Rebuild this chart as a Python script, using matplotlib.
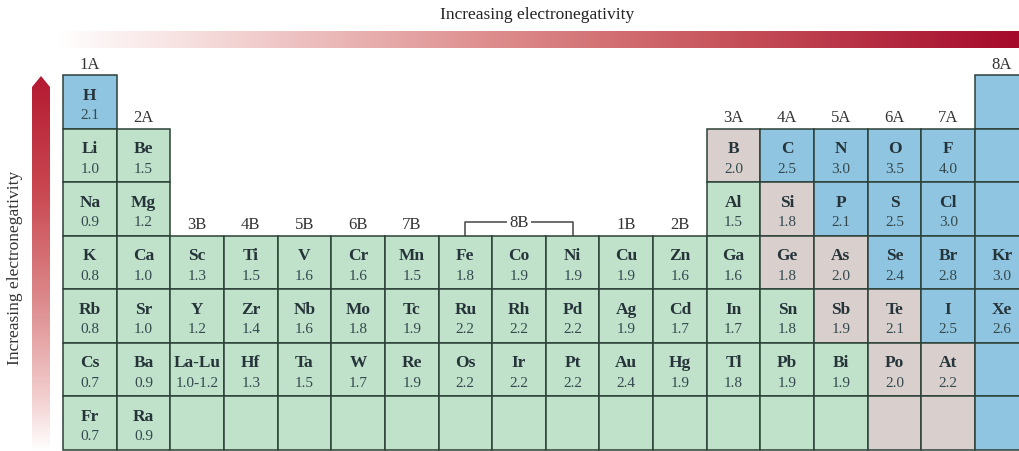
import numpy as np
import matplotlib.pyplot as plt
from matplotlib.colors import LinearSegmentedColormap
from matplotlib.patches import Rectangle, Polygon

plt.rcParams["font.family"] = ["Liberation Serif", "DejaVu Serif"]

# element symbols per period (row), "" = empty cell
symbols = [
    ["H", "", "", "", "", "", "", "", "", "", "", "", "", "", "", "", "", ""],
    ["Li", "Be", "", "", "", "", "", "", "", "", "", "", "B", "C", "N", "O", "F", ""],
    ["Na", "Mg", "", "", "", "", "", "", "", "", "", "", "Al", "Si", "P", "S", "Cl", ""],
    ["K", "Ca", "Sc", "Ti", "V", "Cr", "Mn", "Fe", "Co", "Ni", "Cu", "Zn", "Ga", "Ge", "As", "Se", "Br", "Kr"],
    ["Rb", "Sr", "Y", "Zr", "Nb", "Mo", "Tc", "Ru", "Rh", "Pd", "Ag", "Cd", "In", "Sn", "Sb", "Te", "I", "Xe"],
    ["Cs", "Ba", "La-Lu", "Hf", "Ta", "W", "Re", "Os", "Ir", "Pt", "Au", "Hg", "Tl", "Pb", "Bi", "Po", "At", ""],
    ["Fr", "Ra", "", "", "", "", "", "", "", "", "", "", "", "", "", "", "", ""],
]

# electronegativity values per period
values = [
    ["2.1", "", "", "", "", "", "", "", "", "", "", "", "", "", "", "", "", ""],
    ["1.0", "1.5", "", "", "", "", "", "", "", "", "", "", "2.0", "2.5", "3.0", "3.5", "4.0", ""],
    ["0.9", "1.2", "", "", "", "", "", "", "", "", "", "", "1.5", "1.8", "2.1", "2.5", "3.0", ""],
    ["0.8", "1.0", "1.3", "1.5", "1.6", "1.6", "1.5", "1.8", "1.9", "1.9", "1.9", "1.6", "1.6", "1.8", "2.0", "2.4", "2.8", "3.0"],
    ["0.8", "1.0", "1.2", "1.4", "1.6", "1.8", "1.9", "2.2", "2.2", "2.2", "1.9", "1.7", "1.7", "1.8", "1.9", "2.1", "2.5", "2.6"],
    ["0.7", "0.9", "1.0-1.2", "1.3", "1.5", "1.7", "1.9", "2.2", "2.2", "2.2", "2.4", "1.9", "1.8", "1.9", "1.9", "2.0", "2.2", ""],
    ["0.7", "0.9", "", "", "", "", "", "", "", "", "", "", "", "", "", "", "", ""],
]

# cell shading: g = green, k = grey, b = blue, . = no cell
cell_class = [
    "b................b",
    "gg..........kbbbbb",
    "gg..........gkbbbb",
    "gggggggggggggkkbbb",
    "ggggggggggggggkkbb",
    "gggggggggggggggkkb",
    "gggggggggggggggkkb",
]

# group labels: (label, column, row of the first cell below it)
group_labels = [("1A", 1, 1), ("2A", 2, 2), ("3B", 3, 4), ("4B", 4, 4), ("5B", 5, 4),
                ("6B", 6, 4), ("7B", 7, 4), ("1B", 11, 4), ("2B", 12, 4),
                ("3A", 13, 2), ("4A", 14, 2), ("5A", 15, 2), ("6A", 16, 2),
                ("7A", 17, 2), ("8A", 18, 1)]

colors = {"g": "#c0e2cb", "k": "#d9d0ce", "b": "#8fc5e0"}
edge = "#2c4138"
text_c = "#26343a"

W, H = 1019, 452
x0, cw = 63, 53.65
y0, ch = 76, 53.5

fig = plt.figure(figsize=(W / 100, H / 100), dpi=100)
ax = fig.add_axes([0, 0, 1, 1])
ax.set_xlim(0, W)
ax.set_ylim(H, 0)
ax.axis("off")

# horizontal gradient bar
hcmap = LinearSegmentedColormap.from_list(
    "h", [(0, "#ffffff"), (0.12, "#f8e4e4"), (0.45, "#de8e8e"), (0.68, "#c8575e"), (1, "#a50a2a")])
grad = np.linspace(0, 1, 512).reshape(1, -1)
ax.imshow(grad, cmap=hcmap, extent=(53, W, 49, 32), aspect="auto", zorder=1)

# vertical gradient arrow
vcmap = LinearSegmentedColormap.from_list(
    "v", [(0, "#b41a32"), (0.3, "#c94650"), (0.6, "#dc8a8c"), (0.85, "#f2cccc"), (1, "#ffffff")])
vgrad = np.linspace(0, 1, 512).reshape(-1, 1)
im = ax.imshow(vgrad, cmap=vcmap, extent=(32, 50, 452, 77), aspect="auto", zorder=1)
arrow = Polygon([(32, 452), (32, 88), (41, 77), (50, 88), (50, 452)],
                closed=True, transform=ax.transData, facecolor="none", edgecolor="none")
ax.add_patch(arrow)
im.set_clip_path(arrow)

ax.text(537, 15, "Increasing electronegativity", ha="center", va="center",
        fontsize=12.5, color="#222222")
ax.text(15, 268, "Increasing electronegativity", ha="center", va="center",
        rotation=90, fontsize=12.5, color="#333333")

# cells
for r, row in enumerate(cell_class):
    for c, cls in enumerate(row):
        if cls == ".":
            continue
        x = x0 + c * cw
        y = y0 + r * ch
        ax.add_patch(Rectangle((x, y), cw, ch, facecolor=colors[cls],
                               edgecolor=edge, linewidth=1.1, zorder=2))
        sym = symbols[r][c]
        val = values[r][c]
        if sym:
            ax.text(x + cw / 2, y + 0.37 * ch, sym, ha="center", va="center",
                    fontsize=12.5, fontweight="bold", color=text_c, zorder=3)
        if val:
            ax.text(x + cw / 2, y + 0.74 * ch, val, ha="center", va="center",
                    fontsize=11, color="#34484e", zorder=3)

# group labels
for lab, c, r in group_labels:
    ax.text(x0 + (c - 0.5) * cw, y0 + (r - 1) * ch - 11, lab, ha="center",
            va="center", fontsize=12, color="#333333")

# 8B bracket over Fe, Co, Ni
xa = x0 + 7.5 * cw
xb = x0 + 9.5 * cw
yt = y0 + 3 * ch
ax.plot([xa, xa, xb, xb], [yt, yt - 14, yt - 14, yt], color="#555555", lw=1.2, zorder=1)
ax.text(x0 + 8.5 * cw, yt - 13, "8B", ha="center", va="center", fontsize=12,
        color="#333333", bbox=dict(facecolor="white", edgecolor="none", pad=1.5), zorder=2)

fig.savefig("out.png", dpi=100)
